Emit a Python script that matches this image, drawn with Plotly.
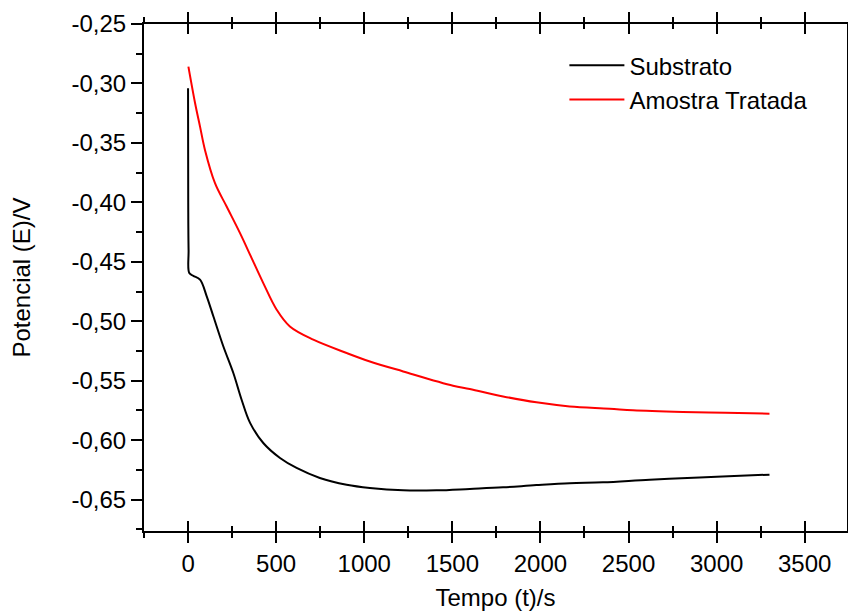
import plotly.graph_objects as go

# Substrato (black curve)
t_sub = [0, 1, 3, 7, 30, 68, 106, 144, 200, 257, 304, 352, 427, 522, 616, 748,
         900, 1032, 1221, 1410, 1599, 1788, 1977, 2166, 2355, 2620, 2903, 3100, 3300]
v_sub = [-0.304, -0.400, -0.440, -0.4595, -0.4618, -0.465, -0.479, -0.496, -0.521,
         -0.5435, -0.566, -0.5855, -0.6024, -0.615, -0.6234, -0.6318, -0.6375,
         -0.6402, -0.6422, -0.6422, -0.641, -0.6397, -0.6378, -0.6362, -0.6355,
         -0.6332, -0.6313, -0.6302, -0.629]

# Amostra Tratada (red curve)
t_trat = [2, 40, 68, 96, 153, 219, 295, 361, 427, 503, 578, 711, 900, 1032, 1221,
          1504, 1599, 1788, 1977, 2166, 2393, 2525, 2808, 3050, 3300]
v_trat = [-0.2859, -0.3167, -0.3363, -0.3559, -0.3839, -0.4035, -0.4259, -0.4469,
          -0.4679, -0.4903, -0.5044, -0.5155, -0.5267, -0.5338, -0.5422, -0.5542,
          -0.557, -0.5632, -0.5682, -0.5716, -0.5735, -0.5749, -0.5763, -0.577,
          -0.5777]

x_ticks = [0, 500, 1000, 1500, 2000, 2500, 3000, 3500]
y_ticks = [-0.25, -0.30, -0.35, -0.40, -0.45, -0.50, -0.55, -0.60, -0.65]
y_labels = ["-0,25", "-0,30", "-0,35", "-0,40", "-0,45", "-0,50", "-0,55",
            "-0,60", "-0,65"]

x_range = [-250, 3740]
y_range = [-0.6764, -0.25]

font = dict(family="Liberation Sans, Arial, sans-serif", size=24, color="black")

fig = go.Figure()
fig.add_trace(go.Scatter(x=t_sub, y=v_sub, mode="lines", name="Substrato",
                         line=dict(color="black", width=2, shape="spline")))
fig.add_trace(go.Scatter(x=t_trat, y=v_trat, mode="lines", name="Amostra Tratada",
                         line=dict(color="red", width=2, shape="spline")))

fig.update_layout(
    width=848,
    height=611,
    margin=dict(l=144, r=1, t=24, b=80, autoexpand=False),
    paper_bgcolor="white",
    plot_bgcolor="white",
    font=font,
    showlegend=True,
    legend=dict(x=0.598, y=0.962, xanchor="left", yanchor="top",
                bgcolor="rgba(0,0,0,0)", itemwidth=55, font=font,
                tracegroupgap=0),
    xaxis=dict(
        range=x_range,
        tickvals=x_ticks,
        ticks="outside",
        ticklen=10,
        tickwidth=2,
        tickcolor="black",
        showline=True,
        linewidth=2,
        linecolor="black",
        mirror="ticks",
        showgrid=False,
        zeroline=False,
        minor=dict(tickmode="linear", tick0=0, dtick=250, ticks="outside",
                   ticklen=5, tickwidth=2, tickcolor="black", showgrid=False),
        title=dict(text="Tempo (t)/s", standoff=20, font=font),
        tickfont=font,
    ),
    xaxis2=dict(
        range=x_range,
        overlaying="x",
        anchor="y",
        side="bottom",
        tickvals=x_ticks,
        ticks="inside",
        ticklen=10,
        tickwidth=2,
        tickcolor="black",
        showticklabels=False,
        showline=False,
        mirror="ticks",
        showgrid=False,
        zeroline=False,
        minor=dict(tickmode="linear", tick0=0, dtick=250, ticks="inside",
                   ticklen=5, tickwidth=2, tickcolor="black", showgrid=False),
    ),
    yaxis=dict(
        range=y_range,
        tickvals=y_ticks,
        ticktext=y_labels,
        ticks="outside",
        ticklen=11,
        tickwidth=2,
        tickcolor="black",
        showline=True,
        linewidth=2,
        linecolor="black",
        mirror=True,
        showgrid=False,
        zeroline=False,
        minor=dict(tickmode="linear", tick0=-0.25, dtick=0.025, ticks="outside",
                   ticklen=6, tickwidth=2, tickcolor="black", showgrid=False),
        title=dict(text="Potencial (E)/V", standoff=34, font=font),
        tickfont=font,
    ),
)

# dummy invisible trace so the overlaid axis is drawn
fig.add_trace(go.Scatter(x=[None], y=[None], xaxis="x2", yaxis="y",
                         showlegend=False, hoverinfo="skip"))

fig.write_html("out.html", config={"displayModeBar": False},
               post_script="document.body.style.margin='0';")
